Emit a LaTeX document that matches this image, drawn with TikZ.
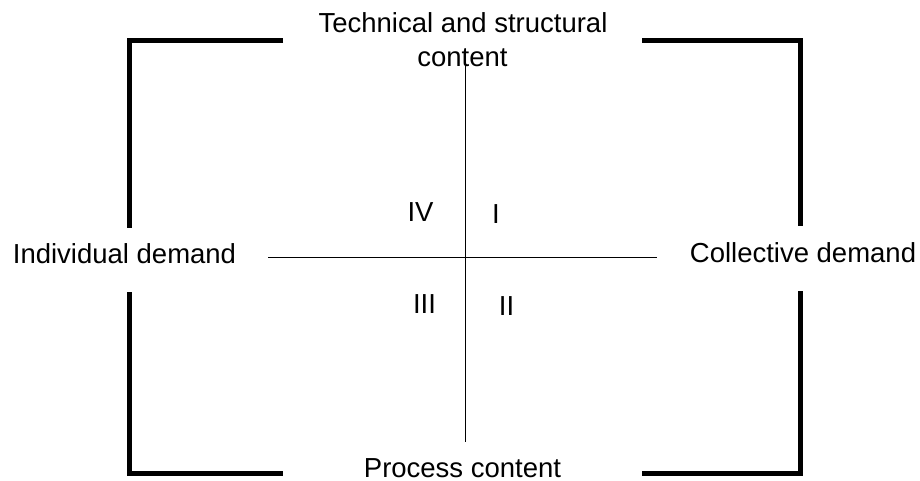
\documentclass[tikz,border=0pt]{standalone}
\usepackage{fontspec}
\setmainfont{Liberation Sans}
\begin{document}
\begin{tikzpicture}[x=1pt,y=-1pt,
  bracket/.style={line width=5pt, line cap=butt, line join=miter},
  axis/.style={line width=1.2pt},
  label/.style={anchor=base, inner sep=0pt, font=\fontsize{27.5}{33}\selectfont},
  quad/.style={anchor=base, inner sep=0pt, font=\fontsize{27.5}{33}\selectfont}]
  \useasboundingbox (0,0) rectangle (920,481);

  % corner brackets of the frame
  \draw[bracket] (283,41) -- (129,41) -- (129,228);
  \draw[bracket] (642,41) -- (800.5,41) -- (800.5,226);
  \draw[bracket] (129,292) -- (129,473.5) -- (283,473.5);
  \draw[bracket] (800.5,291) -- (800.5,473.5) -- (642,473.5);

  % axis end points
  \coordinate (top) at (465.7,62);
  \coordinate (bottom) at (465.7,442);
  \coordinate (left) at (268,257.3);
  \coordinate (right) at (657,257.3);

  % axes
  \draw[axis] (top) -- (bottom);
  \draw[axis] (left) -- (right);

  % axis labels
  \node[label] (tech1) at (463,33) {Technical and structural};
  \node[label] (tech2) at (462.5,67) {content};
  \node[label] (indiv) at (124.5,263) {Individual demand};
  \node[label] (coll) at (803,262) {Collective demand};
  \node[label] (proc) at (462.5,477) {Process content};

  % quadrant numbers
  \node[quad] (q4) at (420.5,221) {IV};
  \node[quad] (q1) at (496,223) {I};
  \node[quad] (q3) at (424.5,313) {III};
  \node[quad] (q2) at (506.5,315) {II};
\end{tikzpicture}
\end{document}
